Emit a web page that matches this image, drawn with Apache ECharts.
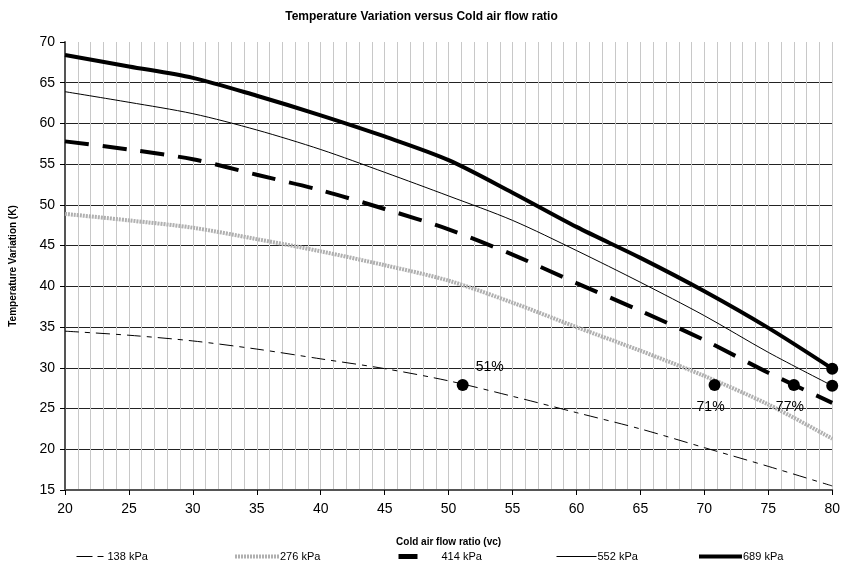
<!DOCTYPE html>
<html>
<head>
<meta charset="utf-8">
<script src="https://cdn.jsdelivr.net/npm/echarts@6/dist/echarts.min.js"></script>
<style>
  html, body { margin: 0; padding: 0; background: #fff; }
  #chart { width: 843px; height: 568px; }
</style>
</head>
<body>
<div id="chart"></div>
<script>
// cold air flow ratio (%)
var flowRatio = [20, 25, 30, 35, 40, 45, 50, 55, 60, 65, 70, 75, 80];
// temperature variation (K) per inlet pressure
var kpa138 = [34.5, 34.0, 33.3, 32.3, 31.1, 29.9, 28.4, 26.5, 24.5, 22.5, 20.2, 17.9, 15.5];
var kpa276 = [48.9, 48.1, 47.2, 45.8, 44.3, 42.6, 40.7, 38.0, 35.0, 32.1, 29.0, 25.5, 21.3];
var kpa414 = [57.8, 56.8, 55.6, 53.7, 51.8, 49.5, 47.0, 43.9, 40.4, 37.0, 33.4, 29.4, 25.7];
var kpa552 = [63.9, 62.6, 61.2, 59.2, 56.8, 54.0, 51.1, 48.1, 44.4, 40.5, 36.4, 31.9, 27.8];
var kpa689 = [68.4, 67.0, 65.6, 63.4, 61.0, 58.4, 55.5, 51.5, 47.3, 43.5, 39.4, 34.9, 29.9];
// marked points
var markX = [51.1, 70.8, 77.0, 80, 80];
var markY = [27.9, 27.9, 27.9, 27.8, 29.9];
var markText = ['51%', '71%', '77%', '', ''];

var font = 'Liberation Sans, Arial, sans-serif';

function pairs(ys) {
  return flowRatio.map(function (x, i) { return [x, ys[i]]; });
}

var chart = echarts.init(document.getElementById('chart'));

function legendAt(name, left, w, line) {
  return {
    data: [name],
    left: left,
    top: 551,
    itemWidth: w,
    itemHeight: 12,
    itemGap: 0,
    padding: 0,
    itemStyle: { opacity: 0 },
    lineStyle: line,
    textStyle: { fontFamily: font, fontSize: 11, color: '#000', padding: [0, 0, 0, -4] },
    selectedMode: false
  };
}

var option = {
  backgroundColor: '#fff',
  animation: false,
  title: {
    text: 'Temperature Variation versus Cold air flow ratio',
    left: 'center',
    top: 6,
    textStyle: { fontFamily: font, fontSize: 12, fontWeight: 'bold', color: '#000' }
  },
  legend: [
    legendAt('138 kPa', 76, 30, { color: '#000', width: 1, type: [16, 5, 6, 5] }),
    legendAt('276 kPa', 233, 44, { color: '#b0b0b0', width: 4, type: [2, 1] }),
    legendAt('414 kPa', 396, 42, { color: '#000', width: 5, type: [19, 40] }),
    legendAt('552 kPa', 556, 40, { color: '#000', width: 1, type: 'solid' }),
    legendAt('689 kPa', 697, 43, { color: '#000', width: 4, type: 'solid' })
  ],
  grid: { left: 63, right: 10, top: 42, bottom: 78 },
  xAxis: {
    type: 'value',
    min: 20,
    max: 80,
    interval: 5,
    name: 'Cold air flow ratio (vc)',
    nameLocation: 'middle',
    nameGap: 47,
    nameTextStyle: { fontFamily: font, fontSize: 10, fontWeight: 'bold', color: '#000' },
    axisLine: { lineStyle: { color: '#555', width: 2 } },
    axisTick: { show: true, length: 5, lineStyle: { color: '#000' } },
    axisLabel: { fontFamily: font, fontSize: 14, color: '#000', margin: 12 },
    splitLine: { show: true, lineStyle: { color: '#c8c8c8', width: 1 } },
    minorTick: { show: false, splitNumber: 5 },
    minorSplitLine: { show: true, lineStyle: { color: '#c8c8c8', width: 1 } }
  },
  yAxis: {
    type: 'value',
    min: 15,
    max: 70,
    interval: 5,
    name: 'Temperature Variation (K)',
    nameLocation: 'middle',
    nameGap: 47,
    nameTextStyle: { fontFamily: font, fontSize: 10, fontWeight: 'bold', color: '#000' },
    axisLine: { show: true, lineStyle: { color: '#555', width: 2 } },
    axisTick: { show: true, length: 5, lineStyle: { color: '#000' } },
    axisLabel: { fontFamily: font, fontSize: 14, color: '#000', margin: 10 },
    splitLine: { show: true, showMaxLine: false, lineStyle: { color: '#222', width: 1 } }
  },
  series: [
    {
      name: '138 kPa', type: 'line', smooth: 0.3, symbol: 'none',
      data: pairs(kpa138),
      lineStyle: { color: '#000', width: 1, type: [14, 6, 5, 6] },
      itemStyle: { color: '#000' }
    },
    {
      name: '276 kPa', type: 'line', smooth: 0.3, symbol: 'none',
      data: pairs(kpa276),
      lineStyle: { color: '#b0b0b0', width: 4, type: [2, 1] },
      itemStyle: { color: '#b0b0b0' }
    },
    {
      name: '414 kPa', type: 'line', smooth: 0.3, symbol: 'none',
      data: pairs(kpa414),
      lineStyle: { color: '#000', width: 4, type: [24, 14] },
      itemStyle: { color: '#000' }
    },
    {
      name: '552 kPa', type: 'line', smooth: 0.3, symbol: 'none',
      data: pairs(kpa552),
      lineStyle: { color: '#000', width: 1 },
      itemStyle: { color: '#000' }
    },
    {
      name: '689 kPa', type: 'line', smooth: 0.3, symbol: 'none',
      data: pairs(kpa689),
      lineStyle: { color: '#000', width: 4 },
      itemStyle: { color: '#000' }
    },
    {
      name: 'points', type: 'scatter', symbol: 'circle', symbolSize: 12,
      itemStyle: { color: '#000', opacity: 1 },
      z: 5,
      data: markX.map(function (x, i) {
        var lab = { show: markText[i] !== '', formatter: markText[i],
          fontFamily: font, fontSize: 14, color: '#000' };
        if (i === 0) { lab.position = 'right'; lab.offset = [2, -18]; }
        else { lab.position = 'bottom'; lab.offset = [-4, 4]; }
        return { value: [x, markY[i]], label: lab };
      })
    }
  ]
};

chart.setOption(option);
</script>
</body>
</html>
